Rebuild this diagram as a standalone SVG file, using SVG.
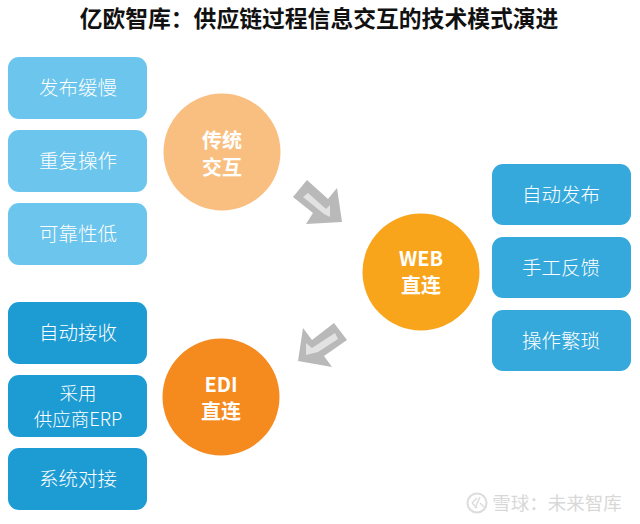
<svg xmlns="http://www.w3.org/2000/svg" width="640" height="524" viewBox="0 0 640 524">
<style>
text{font-family:"Noto Sans CJK SC","Noto Sans",sans-serif;text-anchor:middle}
.t{font-size:19.5px;fill:#fff;font-weight:300}
.s{font-size:18.500px;fill:#fff;font-weight:300}
.c{font-size:20px;fill:#fff;font-weight:700}
.l{fill:#6cc5ec}
.d{fill:#1d9bd3}
.r{fill:#35a9dc}
.ao{fill:#b9b9b9}
.ai{fill:#e2e2e2}
</style>
<rect width="640" height="524" fill="#fff"/>
<text id="title" x="319" y="27" font-size="22.800" font-weight="700" fill="#111">亿欧智库：供应链过程信息交互的技术模式演进</text>
<g id="connectors">
<g id="arrow1"><path class="ao" d="M307 180L293 197L313 213L306 224L342 222L337 188L328 199Z"/><path class="ai" d="M308 193L303 197L324 214L330 217L330 205L326 209Z"/></g>
<g id="arrow2"><path class="ao" d="M334 323L347 340L324 356L332 367L298 361L303 328L312 340Z"/><path class="ai" d="M335 333L338 339L318 352L306 355L306 343L312 348Z"/></g>
</g>
<g id="n1"><rect class="l" x="8" y="57" width="139" height="62" rx="11"/><text class="t" x="78" y="95">发布缓慢</text></g>
<g id="n2"><rect class="l" x="8" y="130" width="139" height="62" rx="11"/><text class="t" x="78" y="168">重复操作</text></g>
<g id="n3"><rect class="l" x="8" y="203" width="139" height="62" rx="11"/><text class="t" x="78" y="241">可靠性低</text></g>
<g id="n4"><circle cx="222" cy="152" r="58.500" fill="#f9bf80"/><text class="c" x="222" y="148">传统</text><text class="c" x="222" y="175">交互</text></g>
<g id="n5"><circle cx="421" cy="272" r="58.500" fill="#f8a51c"/><text class="c" x="421" y="266">WEB</text><text class="c" x="421" y="293">直连</text></g>
<g id="n6"><circle cx="221" cy="397" r="58.500" fill="#f58a1f"/><text class="c" x="221" y="392">EDI</text><text class="c" x="221" y="419">直连</text></g>
<g id="n7"><rect class="r" x="492" y="164" width="139" height="61" rx="11"/><text class="t" x="561" y="202">自动发布</text></g>
<g id="n8"><rect class="r" x="492" y="237" width="139" height="61" rx="11"/><text class="t" x="561" y="275">手工反馈</text></g>
<g id="n9"><rect class="r" x="492" y="310" width="139" height="61" rx="11"/><text class="t" x="561" y="348">操作繁琐</text></g>
<g id="n10"><rect class="d" x="8" y="302" width="139" height="62" rx="11"/><text class="t" x="78" y="340">自动接收</text></g>
<g id="n11"><rect class="d" x="8" y="375" width="139" height="62" rx="11"/><text class="s" x="78" y="400">采用</text><text class="s" x="78" y="426">供应商ERP</text></g>
<g id="n12"><rect class="d" x="8" y="448" width="139" height="62" rx="11"/><text class="t" x="78" y="486">系统对接</text></g>
<g id="watermark"><circle cx="477" cy="503" r="9.500" fill="none" stroke="#dcdcdc" stroke-width="2"/><path d="M472 503l5-5M472 503l5 5M480 497l-5 11M480 503l4 4" fill="none" stroke="#dcdcdc" stroke-width="1.500"/><text x="557" y="510" font-size="18.500" fill="#d8d8d8">雪球：未来智库</text></g>
</svg>
